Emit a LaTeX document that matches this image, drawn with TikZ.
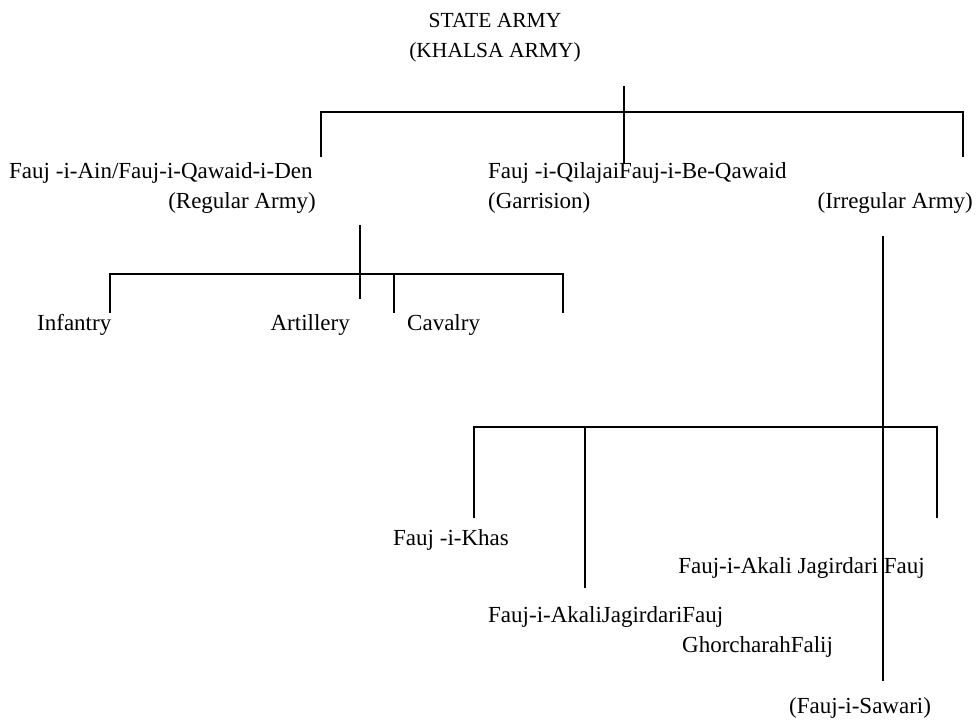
\documentclass[tikz,border=0pt]{standalone}
\usepackage{fontspec}
\setmainfont{Liberation Serif}
\usepackage{tikz}

\tikzset{
    lbl/.style={inner sep=0pt, font=\fontsize{23}{28}\selectfont},
    head/.style={inner sep=0pt, font=\fontsize{21.5}{26}\selectfont},
    branch/.style={-, line width=1.3pt, line cap=rect}
}

\begin{document}
\begin{tikzpicture}[x=1pt,y=-1pt]
        \useasboundingbox (0,0) rectangle (980,721);

        \node[head](State)  at (495,20)  {STATE ARMY};
        \node[head](Khalsa) at (495,52)  {(KHALSA ARMY)};

        \node[lbl, anchor=west](Ain)      at (9,173)   {Fauj -i-Ain/Fauj-i-Qawaid-i-Den};
        \node[lbl, anchor=east](Regular)  at (316,203) {(Regular Army)};
        \node[lbl, anchor=west](Qilajai)  at (488,173) {Fauj -i-QilajaiFauj-i-Be-Qawaid};
        \node[lbl, anchor=west](Garrison) at (488,203) {(Garrision)};
        \node[lbl, anchor=east](Irregular) at (973,203) {(Irregular Army)};

        \node[lbl, anchor=west](Infantry)  at (37,325)  {Infantry};
        \node[lbl, anchor=east](Artillery) at (350,325) {Artillery};
        \node[lbl, anchor=west](Cavalry)   at (407,325) {Cavalry};

        \node[lbl, anchor=west](Khas)       at (393,540) {Fauj -i-Khas};
        \node[lbl, anchor=east](Akali)      at (925,568) {Fauj-i-Akali Jagirdari Fauj};
        \node[lbl, anchor=west](AkaliJag)   at (488,617) {Fauj-i-AkaliJagirdariFauj};
        \node[lbl, anchor=west](Ghorcharah) at (682,647) {GhorcharahFalij};
        \node[lbl, anchor=west](Sawari)     at (789,708) {(Fauj-i-Sawari)};

        % state army branches
        \coordinate (S1) at (624,87);
        \coordinate (S2) at (624,162);
        \coordinate (SL) at (321,112);
        \coordinate (SR) at (963,112);
        \coordinate (SLd) at (321,156);
        \coordinate (SRd) at (963,156);
        % regular army branches
        \coordinate (R1) at (360,226);
        \coordinate (R2) at (360,298);
        \coordinate (RL) at (110,274);
        \coordinate (RM) at (394,274);
        \coordinate (RR) at (563,274);
        \coordinate (RLd) at (110,312);
        \coordinate (RMd) at (394,312);
        \coordinate (RRd) at (563,312);
        % irregular army branches
        \coordinate (I1) at (883,237);
        \coordinate (I2) at (883,680);
        \coordinate (IL) at (474,427);
        \coordinate (IM) at (585,427);
        \coordinate (IR) at (937,427);
        \coordinate (ILd) at (474,517);
        \coordinate (IMd) at (585,587);
        \coordinate (IRd) at (937,517);

        \path
            (S1) edge [branch] (S2)
            (SLd) edge [branch] (SL)
            (SL) edge [branch] (SR)
            (SR) edge [branch] (SRd)
            (R1) edge [branch] (R2)
            (RLd) edge [branch] (RL)
            (RL) edge [branch] (RR)
            (RM) edge [branch] (RMd)
            (RR) edge [branch] (RRd)
            (I1) edge [branch] (I2)
            (ILd) edge [branch] (IL)
            (IL) edge [branch] (IR)
            (IM) edge [branch] (IMd)
            (IR) edge [branch] (IRd)
            ;
    \end{tikzpicture}
\end{document}
